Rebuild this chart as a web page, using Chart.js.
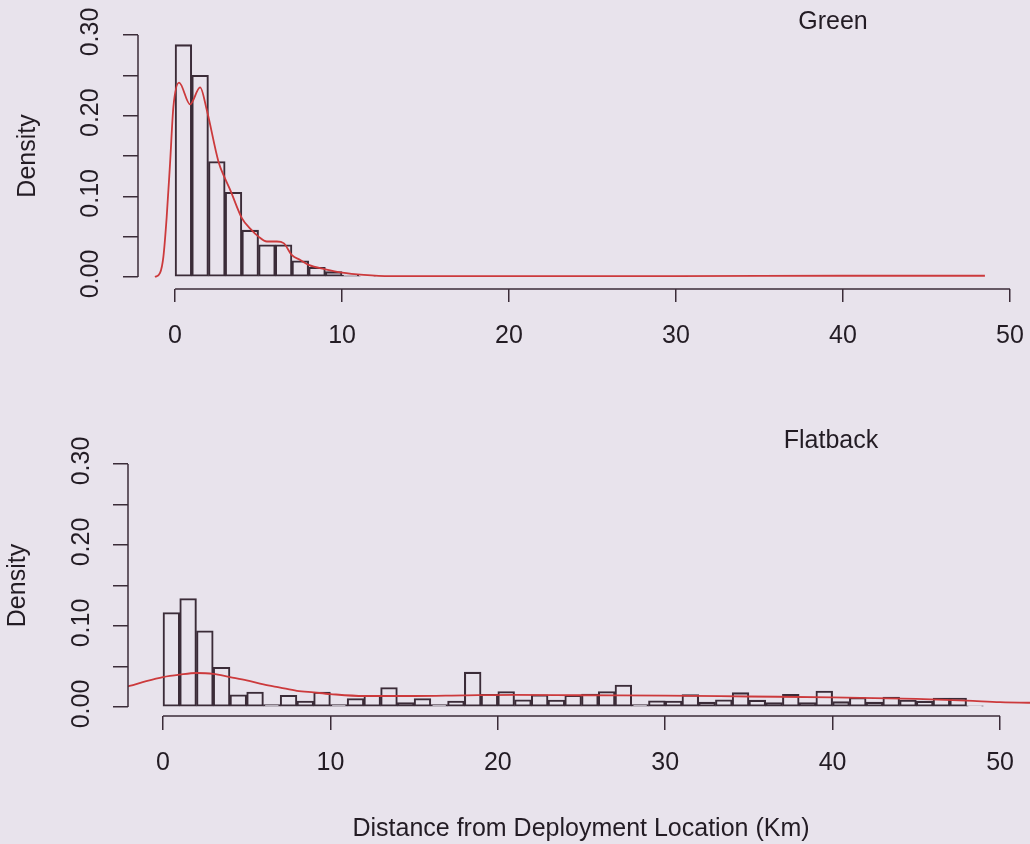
<!DOCTYPE html>
<html>
<head>
<meta charset="utf-8">
<script src="https://cdn.jsdelivr.net/npm/chart.js@4.4.1/dist/chart.umd.min.js"></script>
<style>
    html, body { margin: 0; padding: 0; background: #e8e3ec; }
    canvas { display: block; }
</style>
</head>
<body>
<canvas id="greenChart" width="1030" height="420"></canvas>
<canvas id="flatbackChart" width="1030" height="424"></canvas>
<script>
// Histogram densities (1 km bins starting at 0) and kernel density curves

const xTicks = [0, 10, 20, 30, 40, 50];
const yTicks = [0, 0.05, 0.10, 0.15, 0.20, 0.25, 0.30];
const yLabelValues = [0, 0.10, 0.20, 0.30];
const yLabels = ['0.00', '0.10', '0.20', '0.30'];

const greenDensity = [0.288, 0.250, 0.143, 0.105, 0.058, 0.040, 0.040, 0.020, 0.012, 0.0066, 0.0025, 0.0012];
const greenCurveX = [-1.2, -0.9, -0.7, -0.5, -0.3, -0.1, 0.24, 0.9, 1.5, 1.9, 2.6, 2.95, 3.3, 4.0, 4.5, 5.0, 5.5, 6.1, 6.5, 7.0, 7.5, 8.0, 9.0, 10.0, 11.3, 12.9, 15, 20, 30, 40, 48.5];
const greenCurveY = [0, 0.005, 0.025, 0.075, 0.141, 0.211, 0.241, 0.214, 0.235, 0.207, 0.143, 0.124, 0.108, 0.073, 0.060, 0.050, 0.044, 0.044, 0.042, 0.027, 0.021, 0.015, 0.0095, 0.0053, 0.0025, 0.001, 0.001, 0.001, 0.001, 0.0015, 0.0015];

const flatbackDensity = [0.1165, 0.134, 0.094, 0.049, 0.015, 0.0185, 0.003, 0.0144, 0.0074, 0.0185,
    0.003, 0.0104, 0.0144, 0.024, 0.0054, 0.0104, 0.003, 0.0074, 0.043, 0.0157,
    0.019, 0.009, 0.015, 0.0085, 0.0144, 0.016, 0.019, 0.027, 0.003, 0.0076,
    0.0073, 0.0152, 0.006, 0.009, 0.0177, 0.0084, 0.0056, 0.0156, 0.0055, 0.0196,
    0.0066, 0.0116, 0.006, 0.0123, 0.0086, 0.0072, 0.011, 0.011, 0.0014];
const flatbackCurveX = [-2.6, -2.0, -1.0, 0, 1, 2, 3, 4, 5, 6, 7, 8, 9, 10, 12, 15, 18, 21, 25, 30, 35, 40, 45, 48, 50, 52.5];
const flatbackCurveY = [0.023, 0.026, 0.032, 0.037, 0.040, 0.042, 0.041, 0.037, 0.033, 0.028, 0.024, 0.020, 0.018, 0.016, 0.0136, 0.0136, 0.0144, 0.015, 0.0145, 0.014, 0.013, 0.012, 0.010, 0.008, 0.006, 0.005];

const inkColor = '#3b2c38';
const textColor = '#231c24';
const curveColor = '#cc3a3c';
const fontFamily = '"Liberation Sans", Arial, sans-serif';

// R-style axes: lines only span first..last tick, labels drawn by hand
const rAxesPlugin = {
    id: 'rAxes',
    afterDraw(chart, args, o) {
        const ctx = chart.ctx;
        const xs = chart.scales.x;
        const ys = chart.scales.y;
        const area = chart.chartArea;

        ctx.save();
        ctx.strokeStyle = inkColor;
        ctx.lineWidth = 1.5;
        ctx.beginPath();
        ctx.moveTo(area.left, ys.getPixelForValue(yTicks[0]));
        ctx.lineTo(area.left, ys.getPixelForValue(yTicks[yTicks.length - 1]));
        ctx.moveTo(xs.getPixelForValue(xTicks[0]), area.bottom);
        ctx.lineTo(xs.getPixelForValue(xTicks[xTicks.length - 1]), area.bottom);
        ctx.stroke();

        ctx.fillStyle = textColor;
        ctx.font = '25px ' + fontFamily;
        ctx.textAlign = 'center';
        ctx.textBaseline = 'middle';

        xTicks.forEach(v => {
            ctx.fillText(String(v), xs.getPixelForValue(v), area.bottom + o.xLabelGap);
        });

        yLabelValues.forEach((v, i) => {
            ctx.save();
            ctx.translate(area.left - o.yLabelGap, ys.getPixelForValue(v) - 3);
            ctx.rotate(-Math.PI / 2);
            ctx.fillText(yLabels[i], 0, 0);
            ctx.restore();
        });

        // y axis title
        ctx.save();
        ctx.translate(area.left - o.yTitleGap, (ys.getPixelForValue(0) + ys.getPixelForValue(0.30)) / 2);
        ctx.rotate(-Math.PI / 2);
        ctx.fillText('Density', 0, 0);
        ctx.restore();

        // panel name
        ctx.fillText(o.title, o.titleX, o.titleY);

        if (o.xTitle) {
            ctx.fillText(o.xTitle, o.xTitleX, o.xTitleY);
        }
        ctx.restore();
    }
};

function makeHistChart(canvasId, density, curveX, curveY, opts) {
    const ctx = document.getElementById(canvasId).getContext('2d');
    return new Chart(ctx, {
        type: 'bar',
        data: {
            datasets: [{
                type: 'line',
                data: curveX.map((x, i) => ({ x: x, y: curveY[i] })),
                borderColor: curveColor,
                borderWidth: 1.8,
                pointRadius: 0,
                cubicInterpolationMode: 'monotone',
                fill: false,
                order: 0
            }, {
                type: 'bar',
                data: density.map((d, i) => ({ x: i + 0.5, y: d })),
                backgroundColor: 'rgba(0,0,0,0)',
                borderColor: inkColor,
                borderWidth: 1.4,
                borderSkipped: false,
                barPercentage: 1,
                categoryPercentage: 1,
                grouped: false,
                order: 1
            }]
        },
        options: {
            responsive: false,
            animation: false,
            events: [],
            layout: {
                padding: { top: opts.padTop, left: 0, right: 0, bottom: 0 }
            },
            plugins: {
                legend: { display: false },
                tooltip: { enabled: false },
                rAxes: opts
            },
            scales: {
                x: {
                    type: 'linear',
                    offset: false,
                    min: opts.xMin,
                    max: opts.xMax,
                    afterBuildTicks: scale => {
                        scale.ticks = xTicks.map(v => ({ value: v }));
                    },
                    afterFit: scale => {
                        scale.height = opts.xAxisHeight;
                    },
                    ticks: { display: false },
                    border: { display: false },
                    grid: {
                        offset: false,
                        drawOnChartArea: false,
                        drawTicks: true,
                        tickLength: opts.xTickLength,
                        color: inkColor,
                        lineWidth: 1.5
                    }
                },
                y: {
                    type: 'linear',
                    min: opts.yMin,
                    max: 0.30,
                    afterBuildTicks: scale => {
                        scale.ticks = yTicks.map(v => ({ value: v }));
                    },
                    afterFit: scale => {
                        scale.width = opts.yAxisWidth;
                    },
                    ticks: { display: false },
                    border: { display: false },
                    grid: {
                        offset: false,
                        drawOnChartArea: false,
                        drawTicks: true,
                        tickLength: 15,
                        color: inkColor,
                        lineWidth: 1.5
                    }
                }
            }
        },
        plugins: [rAxesPlugin]
    });
}

makeHistChart('greenChart', greenDensity, greenCurveX, greenCurveY, {
    xMin: -2.22, xMax: 51.2, yMin: -0.0149,
    padTop: 35, yAxisWidth: 138, xAxisHeight: 131, xTickLength: 13,
    xLabelGap: 47, yLabelGap: 47, yTitleGap: 110,
    title: 'Green', titleX: 833, titleY: 22
});

makeHistChart('flatbackChart', flatbackDensity, flatbackCurveX, flatbackCurveY, {
    xMin: -2.09, xMax: 51.79, yMin: -0.0111,
    padTop: 44, yAxisWidth: 128, xAxisHeight: 128, xTickLength: 14,
    xLabelGap: 47, yLabelGap: 46, yTitleGap: 110,
    title: 'Flatback', titleX: 831, titleY: 21,
    xTitle: 'Distance from Deployment Location (Km)', xTitleX: 581, xTitleY: 409
});
</script>
</body>
</html>
